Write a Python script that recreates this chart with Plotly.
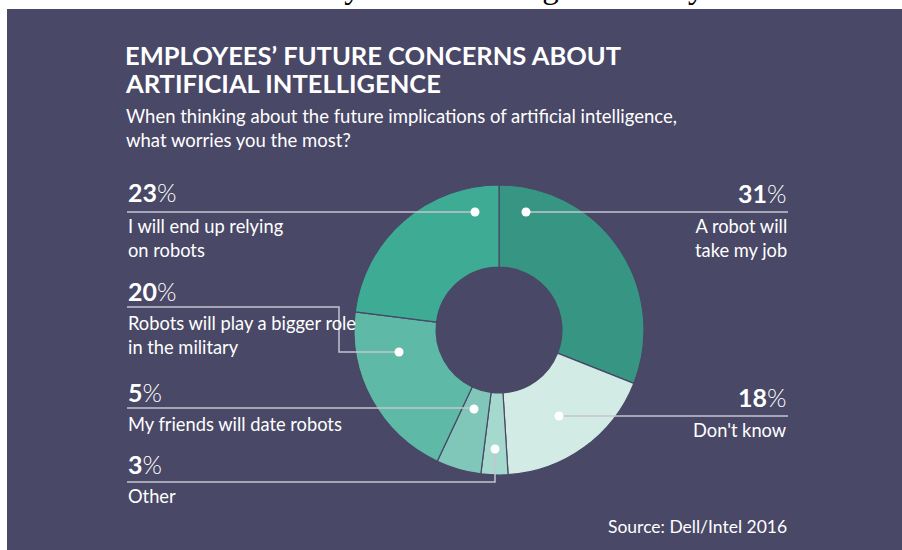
import plotly.graph_objects as go

W, H = 902, 550

# ---- data ----
categories = ["A robot will take my job", "Don't know", "Other",
              "My friends will date robots", "Robots will play a bigger role in the military",
              "I will end up relying on robots"]
values = [31, 18, 3, 5, 20, 23]
slice_colors = ["#379683", "#d3ebe5", "#a6d9ce", "#80c7b9", "#5eb9a6", "#3eab94"]

label_text = ["A robot will<br>take my job", "Don't know", "Other",
              "My friends will date robots", "Robots will play a bigger role<br>in the military",
              "I will end up relying<br>on robots"]

BG = "#494866"
LINE = "#c4c4d0"
FONT = "Lato"

# donut geometry (pixels)
CX, CY, R = 499, 330, 145

def px(x):
    return x / W

def py(y):
    return 1 - y / H

fig = go.Figure()
fig.add_trace(go.Pie(
    values=values, labels=categories, sort=False, direction="clockwise", rotation=0,
    hole=0.434, textinfo="none", hoverinfo="label+percent",
    marker=dict(colors=slice_colors, line=dict(color=BG, width=1.2)),
    domain=dict(x=[px(CX - R), px(CX + R)], y=[py(CY + R), py(CY - R)]),
    showlegend=False,
))

shapes = []
# white page strips around the panel (panel colour is the paper background)
shapes.append(dict(type="rect", xref="paper", yref="paper", x0=0, x1=1, y0=py(9), y1=1,
                   fillcolor="white", line=dict(width=0), layer="below"))
shapes.append(dict(type="rect", xref="paper", yref="paper", x0=0, x1=px(7), y0=0, y1=1,
                   fillcolor="white", line=dict(width=0), layer="below"))

# callout layout
callouts = [
    dict(side="right", pct_base=202, text_base=233, dot=(526, 212),
         path=[(526, 212), (788, 212)]),
    dict(side="right", pct_base=406, text_base=437, dot=(559, 416),
         path=[(559, 416), (788, 416)]),
    dict(side="left", pct_base=473, text_base=503, dot=(495, 449),
         path=[(127, 482), (495, 482), (495, 449)]),
    dict(side="left", pct_base=401, text_base=431, dot=(474, 409),
         path=[(127, 408), (474, 408)]),
    dict(side="left", pct_base=300, text_base=330, dot=(399, 352),
         path=[(127, 307), (339, 307), (339, 352), (399, 352)]),
    dict(side="left", pct_base=201, text_base=233, dot=(475, 212),
         path=[(127, 212), (475, 212)]),
]

for c in callouts:
    pts = c["path"]
    d = "M " + " L ".join(f"{px(x)},{py(y)}" for x, y in pts)
    shapes.append(dict(type="path", xref="paper", yref="paper", path=d,
                       line=dict(color=LINE, width=1.5), layer="above"))
for c in callouts:
    x, y = c["dot"]
    r = 4.5
    shapes.append(dict(type="circle", xref="paper", yref="paper",
                       x0=px(x - r), x1=px(x + r), y0=py(y + r), y1=py(y - r),
                       fillcolor="white", line=dict(width=0), layer="above"))

annotations = []

def add_text(text, x, base, size, anchor="left", color="white", family=FONT, nlines=1):
    cy = base - 0.36 * size + (nlines - 1) * 0.65 * size
    annotations.append(dict(text=text, x=px(x), y=py(cy), xref="paper", yref="paper",
                            xanchor=anchor, yanchor="middle", showarrow=False,
                            align=anchor, font=dict(family=family, size=size, color=color)))

# cut-off text above the panel
add_text("ers know when they are interacting with AI systems.", 790, -1, 33,
         anchor="right", color="black", family="Liberation Serif")

# title & subtitle
add_text("<b>EMPLOYEES’ FUTURE CONCERNS ABOUT</b>", 123, 64, 25.5)
add_text("<b>ARTIFICIAL INTELLIGENCE</b>", 123, 92, 25.5)
add_text("When thinking about the future implications of artificial intelligence,", 124, 123, 18.5)
add_text("what worries you the most?", 124, 147, 18.5)

for c, v, t in zip(callouts, values, label_text):
    pct = f"<b>{v}</b><span style='font-weight:300'>%</span>"
    n = t.count("<br>") + 1
    if c["side"] == "left":
        add_text(pct, 126, c["pct_base"], 25)
        add_text(t, 126, c["text_base"], 18.3, nlines=n)
    else:
        add_text(pct, 789, c["pct_base"], 25, anchor="right")
        add_text(t, 789, c["text_base"], 18.3, anchor="right", nlines=n)

add_text("Source: Dell/Intel 2016", 789, 533, 17.5, anchor="right")

fig.update_layout(
    width=W, height=H, margin=dict(l=0, r=0, t=0, b=0),
    paper_bgcolor=BG, plot_bgcolor=BG,
    shapes=shapes, annotations=annotations,
)
fig.write_html("out.html",
               config={"displayModeBar": False},
               post_script="document.body.style.margin='0';"
                           "document.body.style.overflow='hidden';"
                           "document.documentElement.style.overflow='hidden';")
